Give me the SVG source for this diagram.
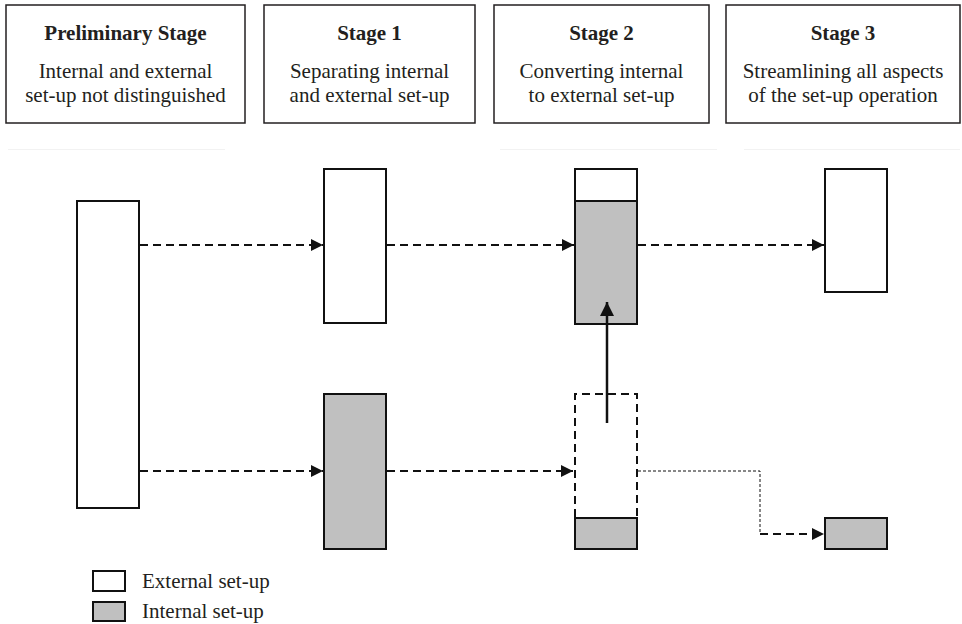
<svg xmlns="http://www.w3.org/2000/svg" width="962" height="624" viewBox="0 0 962 624">
<defs>
<style>
.hdr{fill:#fff;stroke:#231f20;stroke-width:1.5}
.t{font-family:"Liberation Serif","Times New Roman",serif;font-size:21px;fill:#231f20;text-anchor:middle}
.b{font-weight:bold}
.lg{font-family:"Liberation Serif","Times New Roman",serif;font-size:21px;fill:#231f20}
.ext{fill:#fff;stroke:#111;stroke-width:2}
.int{fill:#c0c0c0;stroke:#111;stroke-width:2}
.dash{fill:none;stroke:#111;stroke-width:2;stroke-dasharray:8 5}
.dot{fill:none;stroke:#111;stroke-width:1;stroke-dasharray:3 2}
.solid{fill:none;stroke:#111;stroke-width:2.5}
.faint{stroke:#f2f2f2;stroke-width:1}
</style>
<marker id="ah" markerWidth="12" markerHeight="12" refX="12" refY="6" orient="auto" markerUnits="userSpaceOnUse">
<path d="M0,0 L12,6 L0,12 Z" fill="#111"/>
</marker>
<marker id="ahb" markerWidth="14" markerHeight="14" refX="14" refY="7" orient="auto" markerUnits="userSpaceOnUse">
<path d="M0,0 L14,7 L0,14 Z" fill="#111"/>
</marker>
</defs>
<rect width="962" height="624" fill="#fff"/>

<g id="hdr-prelim">
<rect class="hdr" x="6" y="5" width="239" height="118"/>
<text class="t b" x="125.5" y="40">Preliminary Stage</text>
<text class="t" x="125.5" y="78">Internal and external</text>
<text class="t" x="125.5" y="102">set-up not distinguished</text>
</g>
<g id="hdr-stage1">
<rect class="hdr" x="264" y="5" width="211" height="118"/>
<text class="t b" x="369.5" y="40">Stage 1</text>
<text class="t" x="369.5" y="78">Separating internal</text>
<text class="t" x="369.5" y="102">and external set-up</text>
</g>
<g id="hdr-stage2">
<rect class="hdr" x="494" y="5" width="215" height="118"/>
<text class="t b" x="601.5" y="40">Stage 2</text>
<text class="t" x="601.5" y="78">Converting internal</text>
<text class="t" x="601.5" y="102">to external set-up</text>
</g>
<g id="hdr-stage3">
<rect class="hdr" x="726" y="5" width="234" height="118"/>
<text class="t b" x="843" y="40">Stage 3</text>
<text class="t" x="843" y="78">Streamlining all aspects</text>
<text class="t" x="843" y="102">of the set-up operation</text>
</g>

<g id="faint-lines">
<line class="faint" x1="8" y1="149.5" x2="225" y2="149.5"/>
<line class="faint" x1="500" y1="149.5" x2="717" y2="149.5"/>
<line class="faint" x1="744" y1="149.5" x2="960" y2="149.5"/>
</g>

<g id="prelim-block">
<rect class="ext" x="77" y="201" width="62" height="307"/>
</g>
<g id="stage1-external">
<rect class="ext" x="324" y="169" width="62" height="154"/>
</g>
<g id="stage1-internal">
<rect class="int" x="324" y="394" width="62" height="155"/>
</g>
<g id="stage2-external">
<rect class="ext" x="575" y="169" width="62" height="32"/>
<rect class="int" x="575" y="201" width="62" height="123"/>
</g>
<g id="stage2-converted">
<polyline class="dash" points="575,517 575,394 637,394 637,517"/>
<rect class="int" x="575" y="518" width="62" height="31"/>
</g>
<g id="stage3-external">
<rect class="ext" x="825" y="169" width="62" height="123"/>
</g>
<g id="stage3-internal">
<rect class="int" x="825" y="518" width="62" height="31"/>
</g>

<g id="connectors">
<line class="dash" x1="140" y1="245" x2="323" y2="245" marker-end="url(#ah)"/>
<line class="dash" x1="387" y1="245" x2="574" y2="245" marker-end="url(#ah)"/>
<line class="dash" x1="638" y1="245" x2="824" y2="245" marker-end="url(#ah)"/>
<line class="dash" x1="140" y1="471" x2="323" y2="471" marker-end="url(#ah)"/>
<line class="dash" x1="387" y1="471" x2="573" y2="471" marker-end="url(#ah)"/>
<polyline class="dot" points="638,471 760,471 760,534"/>
<line class="dash" x1="760" y1="534" x2="824" y2="534" marker-end="url(#ah)"/>
<line class="solid" x1="607" y1="423" x2="607" y2="302" marker-end="url(#ahb)"/>
</g>

<g id="legend">
<rect class="ext" x="93" y="571" width="32" height="20"/>
<text class="lg" x="142" y="588">External set-up</text>
<rect class="int" x="93" y="602" width="32" height="19"/>
<text class="lg" x="142" y="618">Internal set-up</text>
</g>
</svg>
